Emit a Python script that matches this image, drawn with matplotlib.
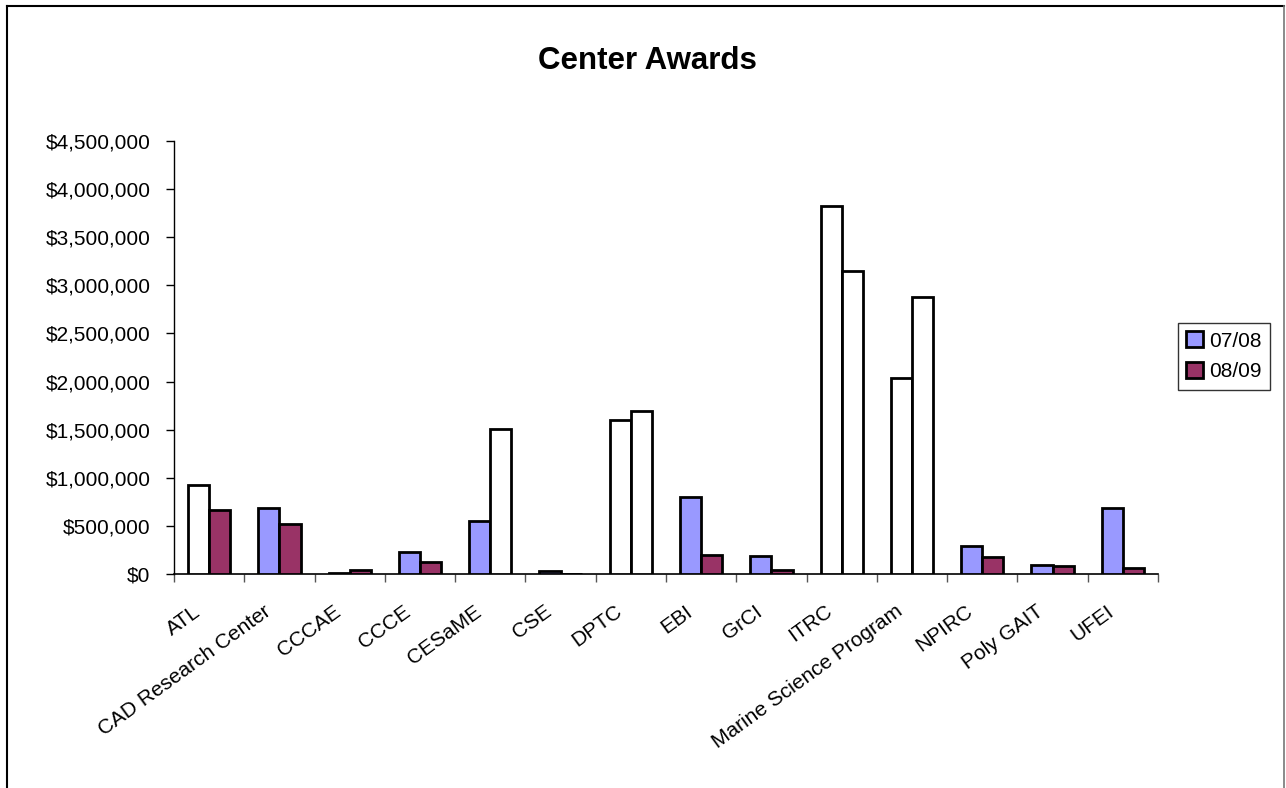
import matplotlib
matplotlib.use("Agg")
import matplotlib.pyplot as plt
import numpy as np
from matplotlib.ticker import FuncFormatter, FixedLocator
from matplotlib.lines import Line2D
from matplotlib.patches import Patch

categories = ["ATL", "CAD Research Center", "CCCAE", "CCCE", "CESaME", "CSE", "DPTC",
              "EBI", "GrCI", "ITRC", "Marine Science Program", "NPIRC", "Poly GAIT", "UFEI"]
series_names = ["07/08", "08/09"]
values_0708 = [925000, 690000, 10000, 230000, 550000, 30000, 1600000,
               800000, 190000, 3825000, 2040000, 295000, 95000, 690000]
values_0809 = [665000, 520000, 40000, 125000, 1510000, 0, 1690000,
               200000, 40000, 3150000, 2875000, 180000, 85000, 65000]

series_colors = ["#9999FF", "#993366"]
# bars drawn with white fill in the reference (series index, category index)
white_bars = {(0, 0), (1, 4), (0, 6), (1, 6), (0, 9), (1, 9), (0, 10), (1, 10)}

plt.rcParams['font.family'] = ['Liberation Sans', 'DejaVu Sans']

fig = plt.figure(figsize=(12.86, 7.88), dpi=100)
W, H = 1286, 788
ax = fig.add_axes([174 / W, 1 - 574 / H, (1158 - 174) / W, (574 - 141) / H])

n = len(categories)
x = np.arange(n)
bw = 0.3
for si, vals in enumerate([values_0708, values_0809]):
    offs = (si - 0.5) * bw
    facecols = ["white" if (si, ci) in white_bars else series_colors[si] for ci in range(n)]
    ax.bar(x + offs, vals, width=bw, color=facecols, edgecolor="black", linewidth=2.0,
           zorder=3)

ax.set_xlim(-0.5, n - 0.5)
ax.set_ylim(0, 4500000)
ax.set_yticks(np.arange(0, 4500001, 500000))
ax.yaxis.set_major_formatter(FuncFormatter(lambda v, p: "${:,.0f}".format(v)))
ax.xaxis.set_major_locator(FixedLocator(np.arange(-0.5, n, 1.0)))
ax.xaxis.set_major_formatter(FuncFormatter(lambda v, p: ""))
ax.tick_params(axis='y', labelsize=15, length=6, width=1, direction='out', pad=11)
ax.tick_params(axis='x', length=6, width=1, direction='out', color='#555555')
for s in ["top", "right"]:
    ax.spines[s].set_visible(False)
ax.spines["left"].set_linewidth(1)
ax.spines["bottom"].set_linewidth(1.2)

for i, lab in enumerate(categories):
    ax.annotate(lab, xy=(i, 0), xycoords=('data', 'axes fraction'),
                xytext=(-12, -20), textcoords='offset points',
                rotation=36, ha='right', va='top', rotation_mode='anchor', fontsize=15)

fig.text(647 / W, 1 - 61 / H, "Center Awards", ha='center', va='center',
         fontsize=22.5, fontweight='bold')

handles = [Patch(facecolor=c, edgecolor='black', linewidth=2.0, label=nm)
           for c, nm in zip(series_colors, series_names)]
leg = fig.legend(handles=handles, loc='upper left', bbox_to_anchor=(1178 / W, 1 - 323 / H),
                 fontsize=15, frameon=True, fancybox=False, edgecolor='black',
                 handlelength=0.8, handleheight=0.8, handletextpad=0.3, borderpad=0.4,
                 labelspacing=0.55, borderaxespad=0)
leg.get_frame().set_linewidth(1)

# chart area frame
fig.add_artist(Line2D([7 / W, 7 / W], [0, 1 - 6 / H], color='black', lw=1.5, transform=fig.transFigure))
fig.add_artist(Line2D([7 / W, 1284 / W], [1 - 6 / H, 1 - 6 / H], color='black', lw=1.5, transform=fig.transFigure))
fig.add_artist(Line2D([1284 / W, 1284 / W], [0, 1 - 6 / H], color='#777777', lw=1.2, transform=fig.transFigure))

fig.savefig("out.png", dpi=100)
